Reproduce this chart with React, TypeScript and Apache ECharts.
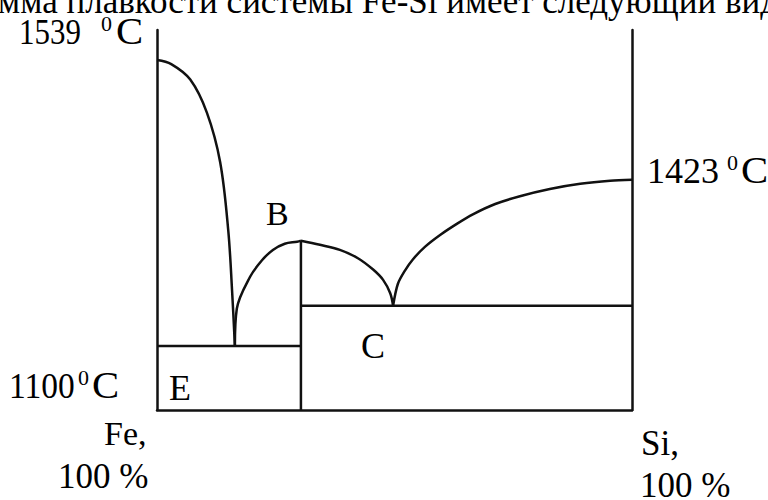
import React, { useEffect, useRef } from "react";
import * as echarts from "echarts";

// Composition axis: % Si (0 = pure Fe, 100 = pure Si); temperature in °C
const X_MIN = 0;
const X_MAX = 100;
const T_MIN = 1200;
const T_MAX = 1568;

const T_MELT_FE = 1539;
const T_MELT_SI = 1423;
const T_EUT_1 = 1262;
const T_EUT_2 = 1301;
const X_COMPOUND = 30.3;
const T_COMPOUND = 1364;

// Liquidus of Fe down to the first eutectic
const feLiquidus: [number, number][] = [
  [0, T_MELT_FE], [3, 1535], [7, 1520], [10.5, 1488], [13.3, 1440],
  [15, 1374], [15.8, 1316], [16.4, T_EUT_1],
];

// Liquidus rising from the first eutectic to the compound maximum
const compoundLeft: [number, number][] = [
  [16.4, T_EUT_1], [16.8, 1298], [19.6, 1329], [22.1, 1345],
  [24.4, 1355], [26.9, 1361], [29.5, 1363], [X_COMPOUND, T_COMPOUND],
];

// Liquidus falling from the compound to the second eutectic
const compoundRight: [number, number][] = [
  [X_COMPOUND, T_COMPOUND], [34.3, 1360], [38.5, 1355], [42.3, 1347],
  [45.5, 1336], [47.6, 1326], [49.1, 1313], [49.7, T_EUT_2],
];

// Liquidus of Si from the second eutectic up to its melting point
const siLiquidus: [number, number][] = [
  [49.7, T_EUT_2], [50.7, 1322], [52.2, 1335], [53.9, 1346], [56.4, 1358],
  [59.6, 1369.5], [63.2, 1380.5], [66.5, 1389.5], [71.2, 1399.5], [76.4, 1407],
  [82.7, 1414], [89.1, 1419], [95.4, 1422], [100, T_MELT_SI],
];

// Straight phase boundaries
const eutecticE: [number, number][] = [[0, T_EUT_1], [X_COMPOUND, T_EUT_1]];
const compoundLine: [number, number][] = [[X_COMPOUND, T_COMPOUND], [X_COMPOUND, T_MIN]];
const eutecticC: [number, number][] = [[X_COMPOUND, T_EUT_2], [100, T_EUT_2]];

const FONT = "'Liberation Serif', 'Times New Roman', serif";
const INK = "#111";
const LINE_W = 2.5;

// y is the centre of the em box (dominant-baseline: central)
const textAt = (s: string, x: number, baseline: number, size: number, scaleX = 1) => ({
  type: "text",
  x,
  y: baseline - 0.3375 * size,
  scaleX,
  style: {
    text: s,
    fontFamily: FONT,
    fontSize: size,
    fill: "#000",
    align: "left",
    verticalAlign: "middle",
  },
});

// "1539 ⁰C"-style label: number, raised zero, C
const degreeLabel = (
  value: string, x: number, baseline: number, numScale: number, supX: number, cX: number,
) => [
  textAt(value, x, baseline, 36, numScale),
  textAt("0", supX, baseline - 13, 22),
  textAt("C", cX, baseline, 37, 1.1),
];

const curve = (data: [number, number][], smooth: number | boolean) => ({
  type: "line",
  data,
  smooth,
  symbol: "none",
  lineStyle: { color: INK, width: LINE_W },
  silent: true,
});

export default function App() {
  const ref = useRef<HTMLDivElement>(null);

  useEffect(() => {
    if (!ref.current) return;
    const chart = echarts.init(ref.current, undefined, { renderer: "svg" });
    const hiddenAxis = {
      axisTick: { show: false },
      axisLabel: { show: false },
      splitLine: { show: false },
      axisLine: { show: true, lineStyle: { color: INK, width: LINE_W } },
    };
    chart.setOption({
      animation: false,
      backgroundColor: "#fff",
      grid: { left: 157, right: 136, top: 30, bottom: 90 },
      xAxis: { type: "value", min: X_MIN, max: X_MAX, ...hiddenAxis },
      yAxis: [
        { type: "value", min: T_MIN, max: T_MAX, position: "left", ...hiddenAxis },
        { type: "value", min: T_MIN, max: T_MAX, position: "right", ...hiddenAxis },
      ],
      series: [
        curve(feLiquidus, 0.35),
        curve(compoundLeft, 0.35),
        curve(compoundRight, 0.35),
        curve(siLiquidus, 0.3),
        curve(eutecticE, false),
        curve(compoundLine, false),
        curve(eutecticC, false),
      ],
      graphic: [
        {
          type: "text",
          x: 778,
          y: 13 - 0.3375 * 35,
          style: {
            text: "Диаграмма плавкости системы Fe-Si имеет следующий вид",
            fontFamily: FONT,
            fontSize: 35,
            fill: "#000",
            align: "right",
            verticalAlign: "middle",
          },
        },
        ...degreeLabel(String(T_MELT_FE), 19, 44, 0.86, 101, 116),
        ...degreeLabel(String(T_MELT_SI), 647, 183, 1.0, 727, 741),
        ...degreeLabel("1100", 9, 398, 0.93, 78, 92),
        textAt("E", 169, 400, 36),
        textAt("B", 266, 225, 34),
        textAt("C", 361, 358, 36),
        textAt("Fe,", 104, 445, 34),
        textAt("100 %", 58, 488, 35),
        textAt("Si,", 641, 455, 35),
        textAt("100 %", 640, 497, 35),
      ],
    });
    return () => chart.dispose();
  }, []);

  return (
    <div
      ref={ref}
      style={{ position: "fixed", left: 0, top: 0, width: 768, height: 500 }}
    />
  );
}
